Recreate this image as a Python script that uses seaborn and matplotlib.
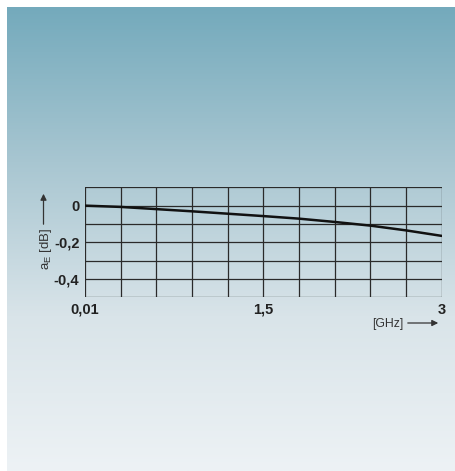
import numpy as np
import seaborn as sns
import matplotlib.pyplot as plt
import pandas as pd
from matplotlib.colors import LinearSegmentedColormap

# frequency [GHz] and attenuation [dB]
freq = [0.01, 0.309, 0.608, 0.907, 1.206, 1.505, 1.804, 2.103, 2.402, 2.701, 3.0]
atten = [0.0, -0.007, -0.019, -0.031, -0.044, -0.057, -0.071, -0.089, -0.109, -0.135, -0.165]

x_ticks = [0.01, 1.5, 3.0]
x_labels = ["0,01", "1,5", "3"]
y_ticks = [0.0, -0.2, -0.4]
y_labels = ["0", "-0,2", "-0,4"]

df = pd.DataFrame({"f": freq, "a": atten})

sns.set_style("white")
plt.rcParams['font.family'] = ['Liberation Sans', 'DejaVu Sans']

W, H = 456, 471
fig = plt.figure(figsize=(W / 100, H / 100), dpi=100)
fig.patch.set_facecolor("white")

# gradient panel behind the chart
bg = fig.add_axes([7 / W, 0, (W - 7) / W, (H - 7) / H])
grad = LinearSegmentedColormap.from_list(
    "bg", ["#74aabc", "#a8c6d1", "#d9e4e9", "#edf2f5"])
bg.imshow(np.linspace(0, 1, 256).reshape(-1, 1), aspect="auto", cmap=grad,
          extent=[0, 1, 0, 1])
bg.set_axis_off()

# plot area
left, right, top, bottom = 85, 441.7, 187.3, 297.3
ax = fig.add_axes([left / W, (H - bottom) / H, (right - left) / W, (bottom - top) / H])
ax.patch.set_alpha(0)

grid_c = "#2a2a2a"
for xv in np.linspace(0.01, 3.0, 11):
    ax.axvline(xv, color=grid_c, lw=0.9, zorder=1)
for yv in np.arange(-0.5, 0.11, 0.1):
    ax.axhline(yv, color=grid_c, lw=0.9, zorder=1)

sns.lineplot(data=df, x="f", y="a", ax=ax, color="#111111", lw=1.8, zorder=3)

ax.set_xlim(0.01, 3.0)
ax.set_ylim(-0.5, 0.1)
ax.set_xticks(x_ticks)
ax.set_xticklabels(x_labels, fontsize=10.5, fontweight="bold", color="#222222")
ax.set_yticks(y_ticks)
ax.set_yticklabels(y_labels, fontsize=10.5, fontweight="bold", color="#222222")
ax.tick_params(length=0, pad=4)
ax.set_xlabel("")
ax.set_ylabel("")
for s in ax.spines.values():
    s.set_visible(False)

# axis captions with arrows
txt_c = "#333333"
fig.text(46 / W, 1 - 249 / H, r"a$_\mathregular{E}$ [dB]", rotation=90,
         ha="center", va="center", fontsize=9.5, color=txt_c)
fig.add_artist(plt.Annotation("", xy=(43.5 / W, 1 - 191 / H), xytext=(43.5 / W, 1 - 227 / H),
                              xycoords="figure fraction", textcoords="figure fraction",
                              arrowprops=dict(arrowstyle="-|>", color=txt_c, lw=0.9,
                                              mutation_scale=9)))
fig.text(388 / W, 1 - 324 / H, "[GHz]", ha="center", va="center", fontsize=8.8, color=txt_c)
fig.add_artist(plt.Annotation("", xy=(441 / W, 1 - 323 / H), xytext=(405 / W, 1 - 323 / H),
                              xycoords="figure fraction", textcoords="figure fraction",
                              arrowprops=dict(arrowstyle="-|>", color=txt_c, lw=0.9,
                                              mutation_scale=9)))

fig.savefig("out.png", dpi=100)
